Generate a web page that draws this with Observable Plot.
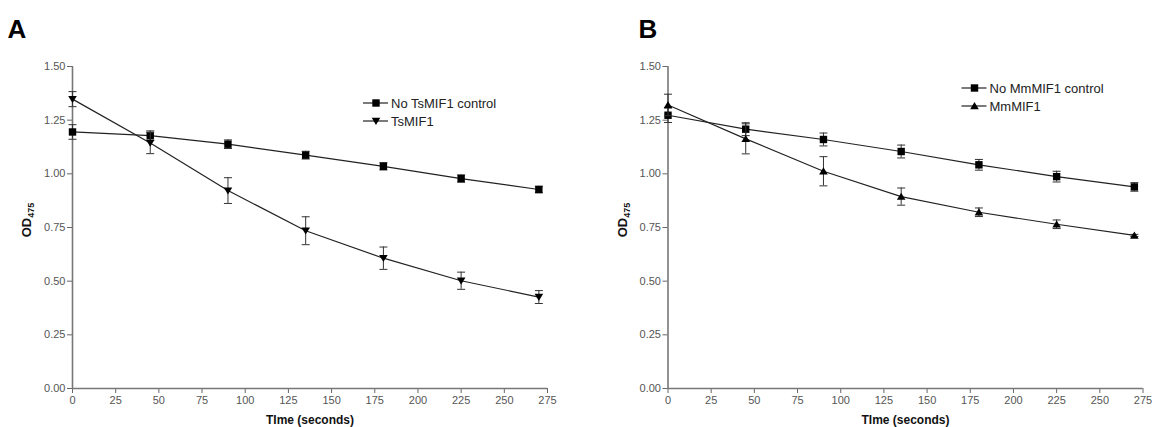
<!DOCTYPE html>
<html>
<head>
<meta charset="utf-8">
<script src="https://cdn.jsdelivr.net/npm/d3@7"></script>
<script src="https://cdn.jsdelivr.net/npm/@observablehq/plot@0.6"></script>
<style>
  html, body { margin: 0; padding: 0; background: #fff; }
  #wrap { display: flex; width: 1152px; height: 427px; }
  #wrap > div { width: 576px; height: 427px; }
</style>
</head>
<body>
<div id="wrap"><div id="panelA"></div><div id="panelB"></div></div>
<script>
// ---------- data ----------
const time = [0, 45, 90, 135, 180, 225, 270];
const xTicks = [0, 25, 50, 75, 100, 125, 150, 175, 200, 225, 250, 275];
const yTicks = [0, 0.25, 0.5, 0.75, 1.0, 1.25, 1.5];

// Panel A
const seriesA1Name = "No TsMIF1 control";
const seriesA1 = [1.195, 1.178, 1.138, 1.087, 1.035, 0.978, 0.927];
const errA1    = [0.034, 0.022, 0.020, 0.018, 0.017, 0.017, 0.015];
const seriesA2Name = "TsMIF1";
const seriesA2 = [1.348, 1.144, 0.922, 0.735, 0.607, 0.502, 0.426];
const errA2    = [0.035, 0.050, 0.060, 0.065, 0.052, 0.040, 0.030];

// Panel B
const seriesB1Name = "No MmMIF1 control";
const seriesB1 = [1.273, 1.208, 1.160, 1.104, 1.042, 0.987, 0.939];
const errB1    = [0.034, 0.030, 0.030, 0.030, 0.025, 0.025, 0.020];
const seriesB2Name = "MmMIF1";
const seriesB2 = [1.321, 1.163, 1.012, 0.894, 0.821, 0.765, 0.713];
const errB2    = [0.050, 0.070, 0.068, 0.040, 0.020, 0.020, 0.005];

const xLabel = "TIme (seconds)";
const yLabelMain = "OD";
const yLabelSub = "475";

// ---------- symbols ----------
const squareSym = {draw(c) { c.moveTo(-3.7, -3.7); c.lineTo(3.7, -3.7); c.lineTo(3.7, 3.7); c.lineTo(-3.7, 3.7); c.closePath(); }};
const triDownSym = {draw(c) { c.moveTo(-4.3, -3.2); c.lineTo(4.3, -3.2); c.lineTo(0, 3.9); c.closePath(); }};
const triUpSym = {draw(c) { c.moveTo(0, -3.9); c.lineTo(4.3, 3.2); c.lineTo(-4.3, 3.2); c.closePath(); }};
const capSym = {draw(c) { c.moveTo(-4, 0); c.lineTo(4, 0); }};

const rows = (vals, errs) => time.map((t, i) => ({t, v: vals[i], lo: vals[i] - errs[i], hi: vals[i] + errs[i]}));

function seriesMarks(data, sym) {
  return [
    Plot.ruleX(data, {x: "t", y1: "lo", y2: "hi", stroke: "#333", strokeWidth: 1}),
    Plot.dot(data, {x: "t", y: "lo", symbol: capSym, fill: "none", stroke: "#333", strokeWidth: 1}),
    Plot.dot(data, {x: "t", y: "hi", symbol: capSym, fill: "none", stroke: "#333", strokeWidth: 1}),
    Plot.line(data, {x: "t", y: "v", stroke: "#222", strokeWidth: 1.2}),
    Plot.dot(data, {x: "t", y: "v", symbol: sym, fill: "#000", stroke: "none"})
  ];
}

function panel(opts) {
  const svg = Plot.plot({
    width: 576, height: 427,
    marginLeft: opts.ml, marginRight: opts.mr, marginTop: 66, marginBottom: 39,
    x: {domain: [0, 275]},
    y: {domain: [0, 1.5]},
    style: {fontFamily: "'Liberation Sans', Arial, sans-serif", fontSize: "11px", color: "#555", background: "#fff"},
    marks: [
      Plot.axisY({ticks: yTicks, tickFormat: d3.format(".2f"), tickSize: 5, tickPadding: 2, label: null, stroke: "#666"}),
      Plot.axisX({ticks: xTicks, tickFormat: d3.format("d"), tickSize: 5, tickPadding: 3, label: null, stroke: "#666"}),
      Plot.ruleX([0], {stroke: "#777", strokeWidth: 1.6}),
      Plot.ruleY([0], {stroke: "#777", strokeWidth: 1.6}),
      ...seriesMarks(rows(opts.v1, opts.e1), squareSym),
      ...seriesMarks(rows(opts.v2, opts.e2), opts.sym2),
      Plot.text([opts.letter], {text: d => d, frameAnchor: "top-left", dx: opts.letterDx, dy: -29, lineAnchor: "bottom", textAnchor: "start", fontSize: 26, fontWeight: "bold", fill: "#000"}),
      Plot.text([xLabel], {text: d => d, frameAnchor: "bottom", dy: 35, lineAnchor: "bottom", fontSize: 12, fontWeight: "bold", fill: "#111"})
    ]
  });
  const s = d3.select(svg);
  // y label with subscript
  const yl = s.append("text")
    .attr("transform", `translate(${opts.ml - 41},220) rotate(-90)`)
    .attr("text-anchor", "middle")
    .attr("font-family", "'Liberation Sans', Arial, sans-serif")
    .attr("font-weight", "bold")
    .attr("fill", "#111");
  yl.append("tspan").attr("font-size", 13).text(yLabelMain);
  yl.append("tspan").attr("font-size", 9).attr("dy", 3).text(yLabelSub);
  // legend
  const lg = s.append("g").attr("transform", `translate(${opts.lgx},${opts.lgy})`)
    .attr("font-family", "'Liberation Sans', Arial, sans-serif").attr("font-size", 13)
    .attr("text-anchor", "start").attr("fill", "#222");
  [[opts.n1, squareSym], [opts.n2, opts.sym2]].forEach(([name, sym], i) => {
    const g = lg.append("g").attr("transform", `translate(0,${i * 18})`);
    g.append("line").attr("x1", 0).attr("x2", 25).attr("y1", 0).attr("y2", 0).attr("stroke", "#222").attr("stroke-width", 1.2);
    g.append("path").attr("transform", "translate(13,0)").attr("d", d3.symbol(sym)()).attr("fill", "#000");
    g.append("text").attr("x", 28).attr("y", 0).attr("dy", "0.35em").attr("text-anchor", "start").text(name);
  });
  return svg;
}

document.getElementById("panelA").appendChild(panel({
  ml: 72, mr: 29, letter: "A", letterDx: -65,
  v1: seriesA1, e1: errA1, v2: seriesA2, e2: errA2, sym2: triDownSym,
  n1: seriesA1Name, n2: seriesA2Name, lgx: 363, lgy: 103
}));
document.getElementById("panelB").appendChild(panel({
  ml: 91.5, mr: 9.5, letter: "B", letterDx: -29.5,
  v1: seriesB1, e1: errB1, v2: seriesB2, e2: errB2, sym2: triUpSym,
  n1: seriesB1Name, n2: seriesB2Name, lgx: 385.5, lgy: 88
}));
</script>
</body>
</html>
